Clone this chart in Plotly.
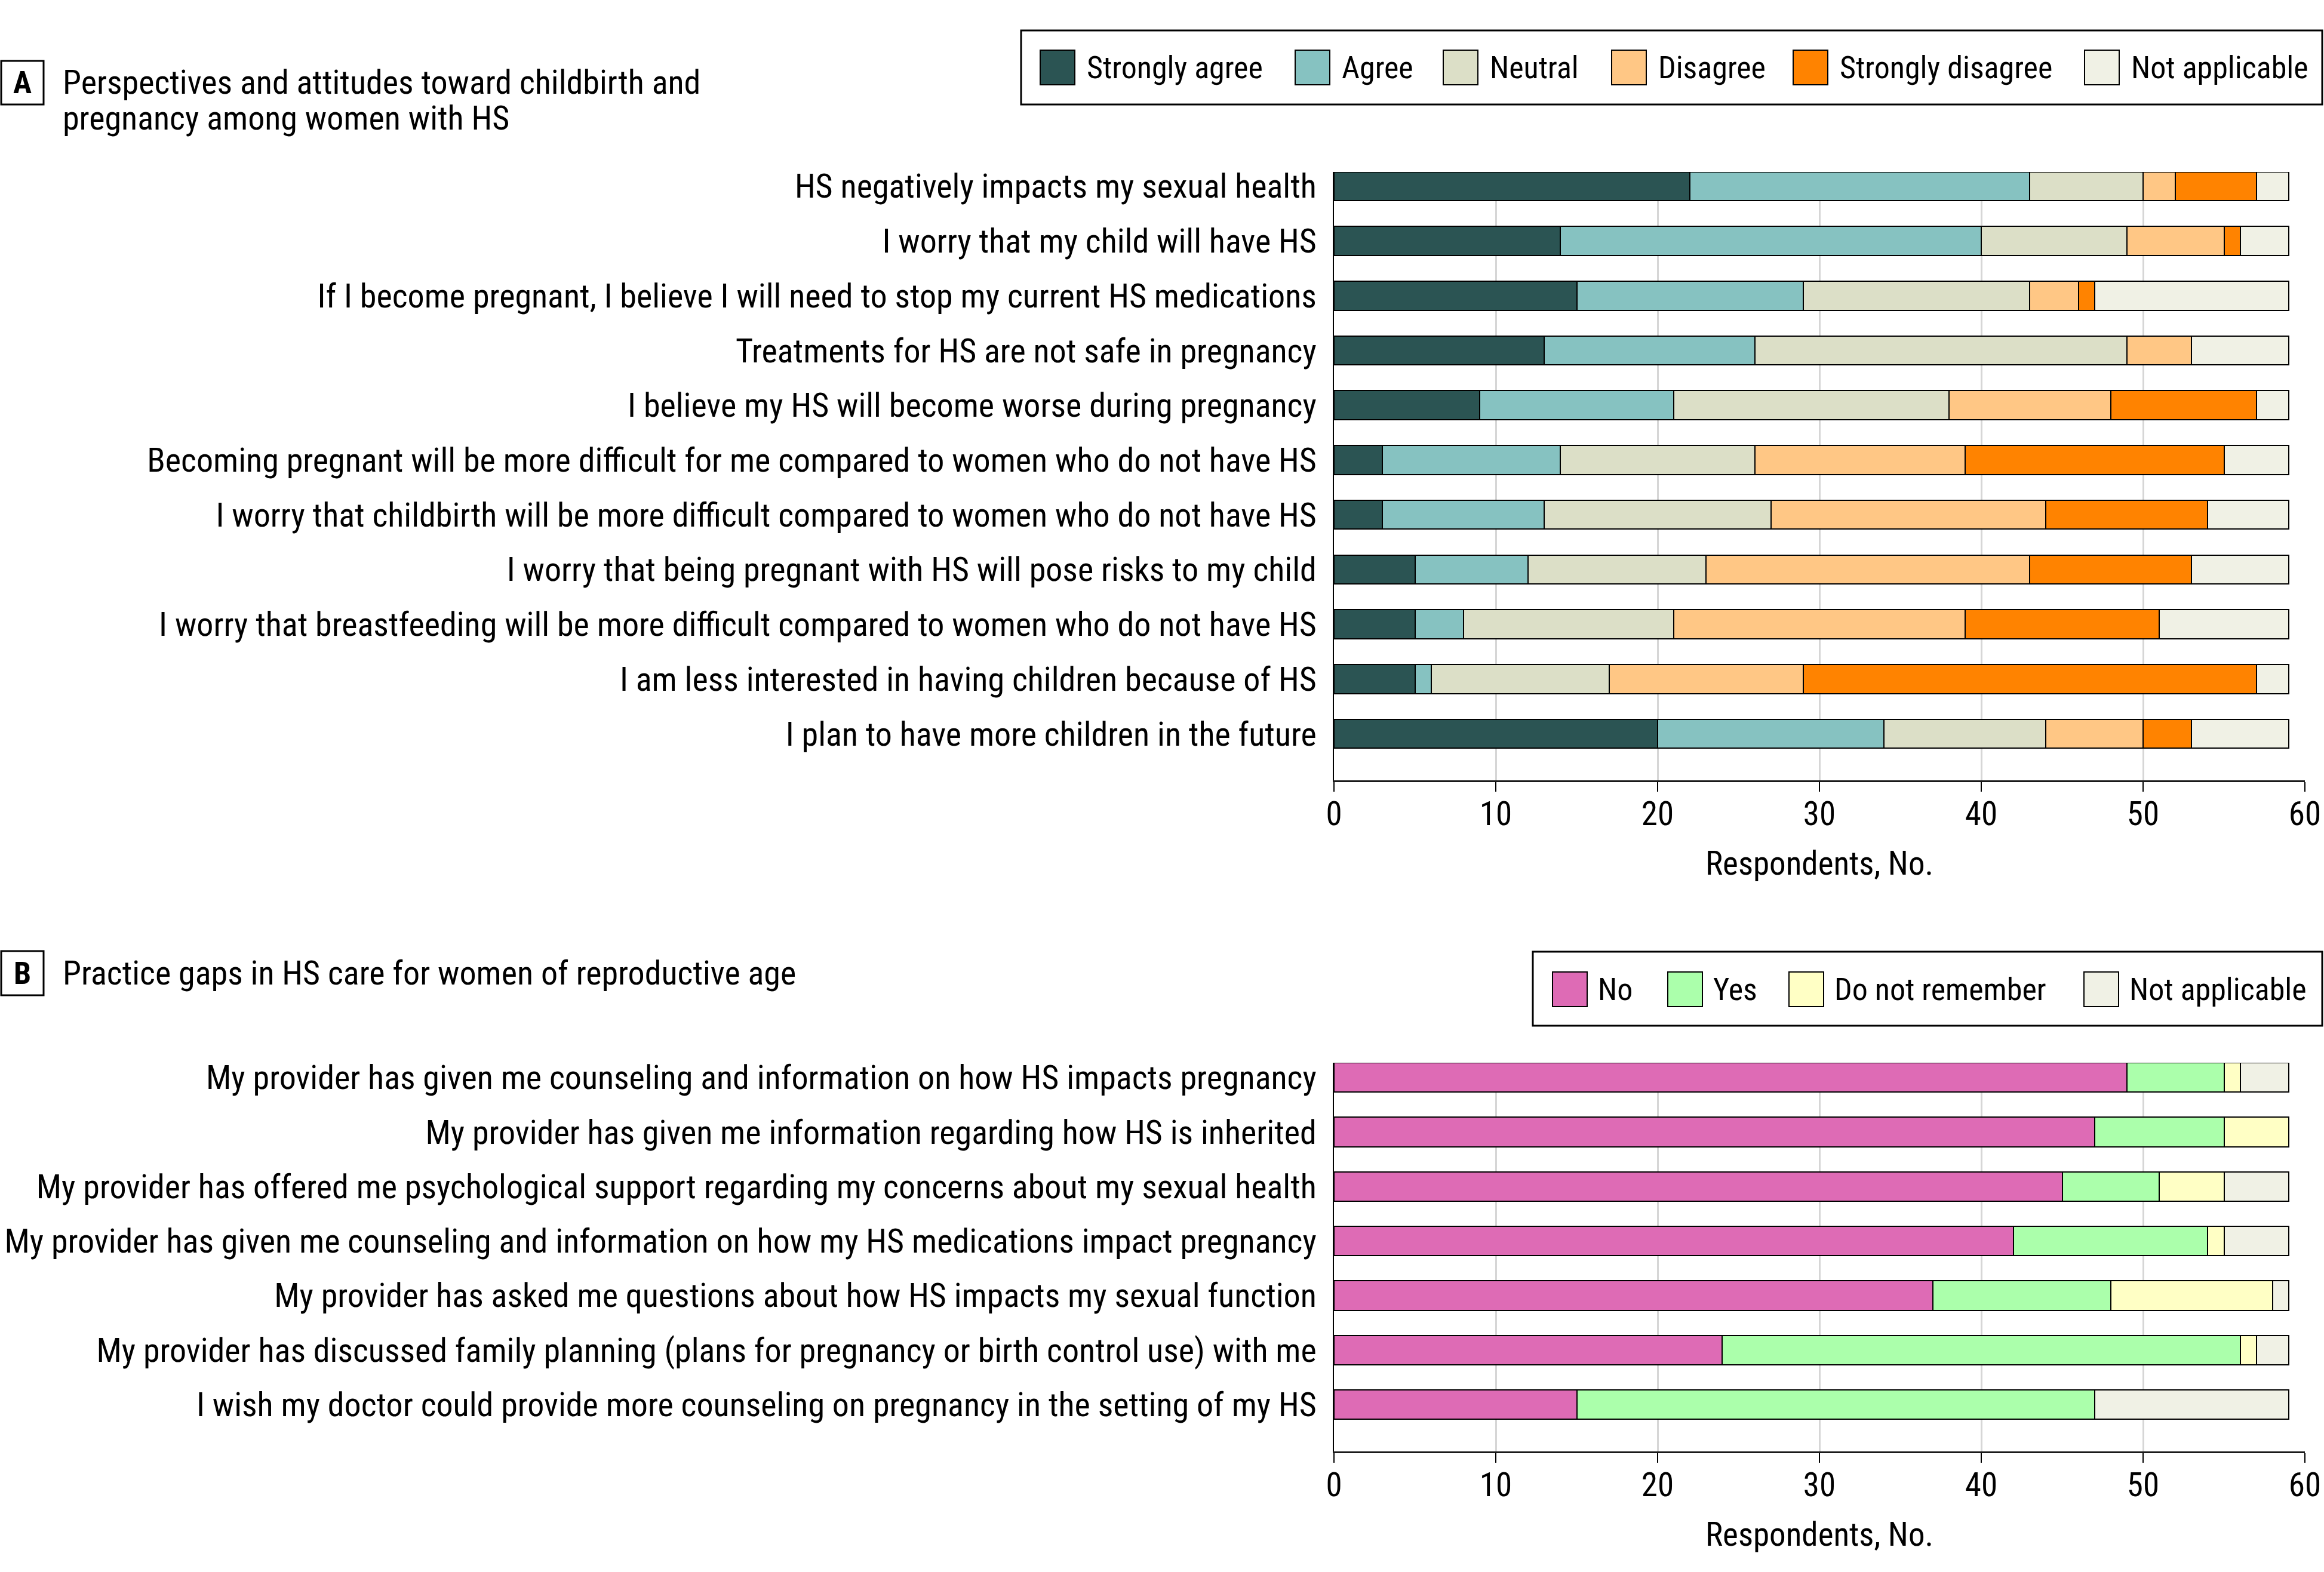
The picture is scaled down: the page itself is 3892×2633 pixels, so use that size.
import plotly.graph_objects as go

# ---------------- Data ----------------
a_categories = [
    "HS negatively impacts my sexual health",
    "I worry that my child will have HS",
    "If I become pregnant, I believe I will need to stop my current HS medications",
    "Treatments for HS are not safe in pregnancy",
    "I believe my HS will become worse during pregnancy",
    "Becoming pregnant will be more difficult for me compared to women who do not have HS",
    "I worry that childbirth will be more difficult compared to women who do not have HS",
    "I worry that being pregnant with HS will pose risks to my child",
    "I worry that breastfeeding will be more difficult compared to women who do not have HS",
    "I am less interested in having children because of HS",
    "I plan to have more children in the future",
]
strongly_agree = [22, 14, 15, 13, 9, 3, 3, 5, 5, 5, 20]
agree = [21, 26, 14, 13, 12, 11, 10, 7, 3, 1, 14]
neutral = [7, 9, 14, 23, 17, 12, 14, 11, 13, 11, 10]
disagree = [2, 6, 3, 4, 10, 13, 17, 20, 18, 12, 6]
strongly_disagree = [5, 1, 1, 0, 9, 16, 10, 10, 12, 28, 3]
not_applicable_a = [2, 3, 12, 6, 2, 4, 5, 6, 8, 2, 6]

b_categories = [
    "My provider has given me counseling and information on how HS impacts pregnancy",
    "My provider has given me information regarding how HS is inherited",
    "My provider has offered me psychological support regarding my concerns about my sexual health",
    "My provider has given me counseling and information on how my HS medications impact pregnancy",
    "My provider has asked me questions about how HS impacts my sexual function",
    "My provider has discussed family planning (plans for pregnancy or birth control use) with me",
    "I wish my doctor could provide more counseling on pregnancy in the setting of my HS",
]
no = [49, 47, 45, 42, 37, 24, 15]
yes = [6, 8, 6, 12, 11, 32, 32]
do_not_remember = [1, 4, 4, 1, 10, 1, 0]
not_applicable_b = [3, 0, 4, 4, 1, 2, 12]

x_ticks = [0, 10, 20, 30, 40, 50, 60]

a_series = ["Strongly agree", "Agree", "Neutral", "Disagree", "Strongly disagree", "Not applicable"]
a_values = [strongly_agree, agree, neutral, disagree, strongly_disagree, not_applicable_a]
a_colors = ["#2B5453", "#86C2C1", "#DCDFC7", "#FFC785", "#FF8300", "#F0F1E5"]

b_series = ["No", "Yes", "Do not remember", "Not applicable"]
b_values = [no, yes, do_not_remember, not_applicable_b]
b_colors = ["#DE6BB5", "#ABFFAB", "#FFFFC5", "#F0F1E5"]

# ---------------- Layout helpers ----------------
W, H = 3892, 2633
FONT = "Liberation Sans Narrow, Roboto Condensed, DejaVu Sans Condensed, Arial Narrow, sans-serif"
FS = 56      # category labels / titles
FS_AX = 55   # axis tick labels / axis titles
FS_LEG = 52  # legend text


def px(x):
    return x / W


def py(y):
    return 1 - y / H


fig = go.Figure()

for name, vals, col in zip(a_series, a_values, a_colors):
    fig.add_trace(go.Bar(
        y=a_categories, x=vals, name=name, orientation="h",
        marker=dict(color=col, line=dict(color="black", width=2)),
        width=0.53, xaxis="x", yaxis="y", showlegend=False,
    ))

for name, vals, col in zip(b_series, b_values, b_colors):
    fig.add_trace(go.Bar(
        y=b_categories, x=vals, name=name, orientation="h",
        marker=dict(color=col, line=dict(color="black", width=2)),
        width=0.54, xaxis="x2", yaxis="y2", showlegend=False,
    ))

axis_common_x = dict(
    range=[0, 60], tickvals=x_ticks, showgrid=True, gridcolor="#D6D6D6", gridwidth=3,
    zeroline=False, showline=True, linecolor="#1a1a1a", linewidth=3,
    ticks="outside", ticklen=16, tickwidth=2, tickcolor="black",
    ticklabelstandoff=-10,
    tickfont=dict(family=FONT, size=FS_AX, color="black"),
    fixedrange=True, automargin=False,
)
axis_common_y = dict(
    type="category", showgrid=False, zeroline=False, showline=True,
    linecolor="black", linewidth=2, ticks="", ticklabelstandoff=16,
    tickfont=dict(family=FONT, size=FS, color="black"),
    fixedrange=True, automargin=False,
)

# plot areas (pixels): A: x 2234-3860, y 288-1307 ; B: y 1780-2431
fig.update_layout(
    width=W, height=H, margin=dict(l=0, r=0, t=0, b=0, autoexpand=False),
    paper_bgcolor="white", plot_bgcolor="white",
    barmode="stack", bargap=0, showlegend=False,
    font=dict(family=FONT, size=FS, color="black"),
    xaxis=dict(domain=[px(2234), px(3860)], anchor="y",
               title=dict(text="Respondents, No.", font=dict(family=FONT, size=FS_AX), standoff=33),
               **axis_common_x),
    yaxis=dict(domain=[py(1307), py(288)], anchor="x",
               categoryorder="array", categoryarray=a_categories,
               range=[10.85, -0.26], **axis_common_y),
    xaxis2=dict(domain=[px(2234), px(3860)], anchor="y2",
                title=dict(text="Respondents, No.", font=dict(family=FONT, size=FS_AX), standoff=33),
                **axis_common_x),
    yaxis2=dict(domain=[py(2431), py(1780)], anchor="x2",
                categoryorder="array", categoryarray=b_categories,
                range=[6.86, -0.27], **axis_common_y),
)

shapes = []
annotations = []

# Panel label boxes and titles
for letter, y0, y1 in [("A", 102, 175), ("B", 1593, 1667)]:
    shapes.append(dict(type="rect", xref="paper", yref="paper",
                       x0=px(2), x1=px(73), y0=py(y1), y1=py(y0),
                       line=dict(color="black", width=3), fillcolor="white"))
    annotations.append(dict(text=f"<b>{letter}</b>", xref="paper", yref="paper",
                            x=px(37), y=py((y0 + y1) / 2), xanchor="center", yanchor="middle",
                            showarrow=False, font=dict(family=FONT, size=FS_LEG, color="black")))

for txt, yc in [("Perspectives and attitudes toward childbirth and", 138),
                ("pregnancy among women with HS", 198),
                ("Practice gaps in HS care for women of reproductive age", 1630)]:
    annotations.append(dict(text=txt, xref="paper", yref="paper", x=px(103), y=py(yc),
                            xanchor="left", yanchor="middle", showarrow=False,
                            font=dict(family=FONT, size=FS, color="black")))

# Legend A
shapes.append(dict(type="rect", xref="paper", yref="paper",
                   x0=px(1710), x1=px(3889), y0=py(175), y1=py(51),
                   line=dict(color="black", width=3)))
a_leg_x = [1742, 2169, 2417, 2699, 3003, 3491]
for name, col, x0 in zip(a_series, a_colors, a_leg_x):
    shapes.append(dict(type="rect", xref="paper", yref="paper",
                       x0=px(x0), x1=px(x0 + 58), y0=py(142), y1=py(84),
                       line=dict(color="black", width=2), fillcolor=col))
    annotations.append(dict(text=name, xref="paper", yref="paper", x=px(x0 + 76), y=py(113),
                            xanchor="left", yanchor="middle", showarrow=False,
                            font=dict(family=FONT, size=FS_LEG, color="black")))

# Legend B
shapes.append(dict(type="rect", xref="paper", yref="paper",
                   x0=px(2567), x1=px(3889), y0=py(1718), y1=py(1594),
                   line=dict(color="black", width=3)))
b_leg_x = [2600, 2793, 2996, 3490]
for name, col, x0 in zip(b_series, b_colors, b_leg_x):
    shapes.append(dict(type="rect", xref="paper", yref="paper",
                       x0=px(x0), x1=px(x0 + 58), y0=py(1686), y1=py(1628),
                       line=dict(color="black", width=2), fillcolor=col))
    annotations.append(dict(text=name, xref="paper", yref="paper", x=px(x0 + 74), y=py(1657),
                            xanchor="left", yanchor="middle", showarrow=False,
                            font=dict(family=FONT, size=FS_LEG, color="black")))

fig.update_layout(shapes=shapes, annotations=annotations)

fig.write_html("out.html", config={"displayModeBar": False},
               post_script="document.body.style.margin='0';")
